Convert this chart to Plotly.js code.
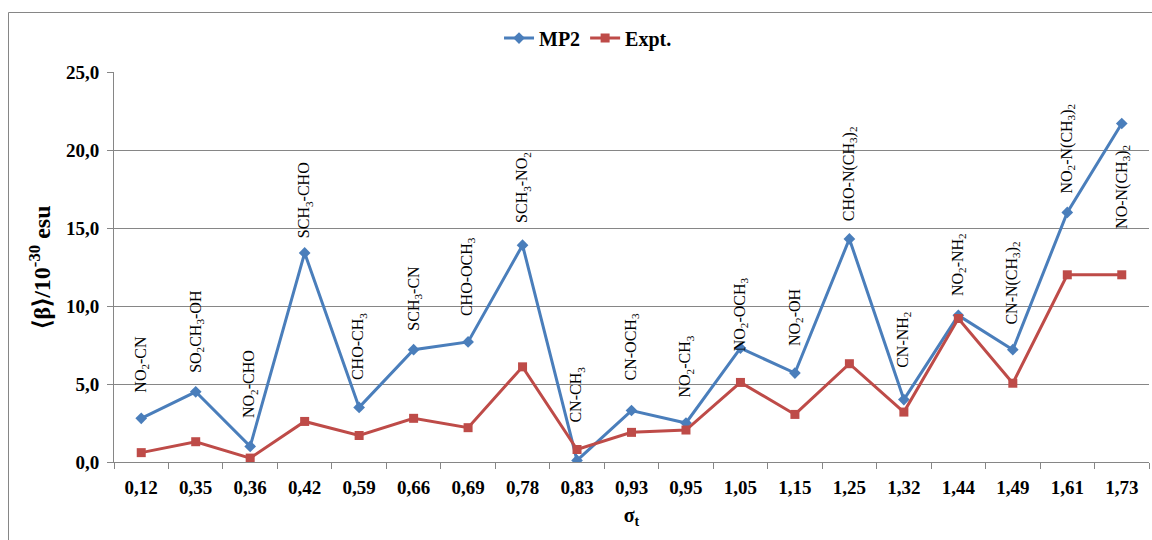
<!DOCTYPE html>
<html>
<head>
<meta charset="utf-8">
<script src="https://cdn.plot.ly/plotly-3.0.1.min.js"></script>
<style>
html,body{margin:0;padding:0;background:#fff;}
#chart{width:1152px;height:540px;}
</style>
</head>
<body>
<div id="chart"></div>
<script>
// Data
var sigmaLabels = ["0,12","0,35","0,36","0,42","0,59","0,66","0,69","0,78","0,83","0,93","0,95","1,05","1,15","1,25","1,32","1,44","1,49","1,61","1,73"];
var mp2 = [2.8, 4.5, 1.0, 13.4, 3.5, 7.2, 7.7, 13.9, 0.1, 3.3, 2.5, 7.3, 5.7, 14.3, 4.0, 9.4, 7.2, 16.0, 21.7];
var expt = [0.6, 1.3, 0.25, 2.6, 1.7, 2.8, 2.2, 6.1, 0.8, 1.9, 2.05, 5.1, 3.05, 6.3, 3.2, 9.2, 5.05, 12.0, 12.0];
var compoundLabels = ["NO<sub>2</sub>-CN","SO<sub>2</sub>CH<sub>3</sub>-OH","NO<sub>2</sub>-CHO","SCH<sub>3</sub>-CHO","CHO-CH<sub>3</sub>","SCH<sub>3</sub>-CN","CHO-OCH<sub>3</sub>","SCH<sub>3</sub>-NO<sub>2</sub>","CN-CH<sub>3</sub>","CN-OCH<sub>3</sub>","NO<sub>2</sub>-CH<sub>3</sub>","NO<sub>2</sub>-OCH<sub>3</sub>","NO<sub>2</sub>-OH","CHO-N(CH<sub>3</sub>)<sub>2</sub>","CN-NH<sub>2</sub>","NO<sub>2</sub>-NH<sub>2</sub>","CN-N(CH<sub>3</sub>)<sub>2</sub>","NO<sub>2</sub>-N(CH<sub>3</sub>)<sub>2</sub>","NO-N(CH<sub>3</sub>)<sub>2</sub>"];
var labelBase = [4.3, 5.6, 2.7, 14.2, 5.1, 8.3, 9.2, 15.2, 2.4, 5.1, 4.0, 7.0, 7.3, 15.3, 5.9, 10.5, 8.7, 17.1, 14.8];

var serif = "Liberation Serif, Times New Roman, serif";

var traces = [
  {x: sigmaLabels, y: mp2, name: "MP2", type: "scatter", mode: "lines+markers",
   line: {color: "#4A7EBB", width: 3}, marker: {symbol: "diamond", size: 9, color: "#4A7EBB"}},
  {x: sigmaLabels, y: expt, name: "Expt.", type: "scatter", mode: "lines+markers",
   line: {color: "#BE4B48", width: 3}, marker: {symbol: "square", size: 9, color: "#BE4B48"}}
];

var annotations = compoundLabels.map(function(t, i){
  return {x: sigmaLabels[i], y: labelBase[i], xref: "x", yref: "y", text: t, textangle: -90,
    showarrow: false, xanchor: "center", yanchor: "bottom",
    font: {family: serif, size: 16, color: "#000"}};
});

var layout = {
  width: 1152, height: 540,
  margin: {l: 114, r: 3, t: 72, b: 78},
  paper_bgcolor: "#fff", plot_bgcolor: "#fff",
  showlegend: true,
  legend: {orientation: "h", x: 0.372, xanchor: "left", y: 1.087, yanchor: "middle",
    font: {family: serif, size: 20, color: "#000", weight: "bold"}, tracegroupgap: 0},
  xaxis: {type: "category", range: [-0.5, 18.5], autorange: false, showgrid: false, showline: true, linecolor: "#868686", linewidth: 1,
    ticks: "outside", tickson: "boundaries", ticklen: 6, tickcolor: "#868686", ticklabelstandoff: 8,
    tickfont: {family: serif, size: 19, color: "#000", weight: "bold"},
    title: {text: "σ<sub>t</sub>", font: {family: serif, size: 20, color: "#000", weight: "bold"}, standoff: 11},
    fixedrange: true},
  yaxis: {range: [0, 25], autorange: false, dtick: 5, tickformat: ".1f",
    showgrid: true, gridcolor: "#868686", gridwidth: 1, zeroline: false,
    showline: true, linecolor: "#868686", ticks: "outside", ticklen: 6, tickcolor: "#868686", ticklabelstandoff: 4,
    tickfont: {family: serif, size: 19, color: "#000", weight: "bold"},
    title: {text: "⟨β⟩/10<sup>-30</sup> esu", font: {family: serif, size: 24, color: "#000", weight: "bold"}, standoff: 8}},
  separators: ",.",
  annotations: annotations,
  shapes: [{type: "rect", xref: "paper", yref: "paper",
    x0: (8.5 - 114) / 1035, x1: 1.05, y0: -0.4, y1: (462 - 12.5) / 390,
    line: {color: "#868686", width: 1}, fillcolor: "rgba(0,0,0,0)", layer: "below"}]
};

Plotly.newPlot("chart", traces, layout, {displayModeBar: false, staticPlot: true});
</script>
</body>
</html>
